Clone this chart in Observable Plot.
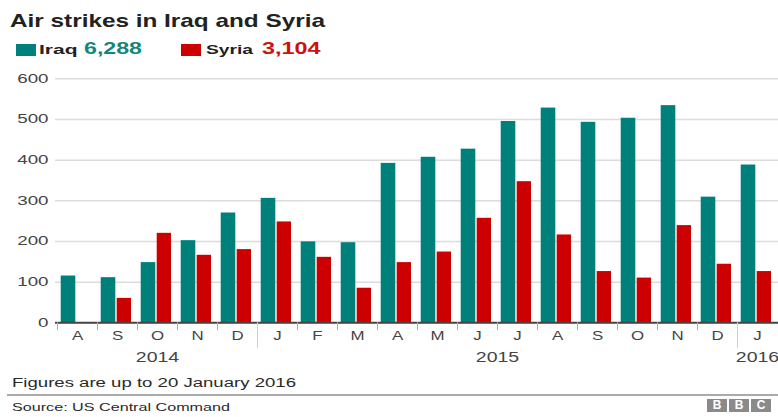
<!DOCTYPE html>
<html><head><meta charset="utf-8">
<script src="https://cdn.jsdelivr.net/npm/d3@7"></script>
<script src="https://cdn.jsdelivr.net/npm/@observablehq/plot@0.6"></script>
<style>
html,body{margin:0;padding:0;background:#fff;}
#wrap{position:relative;width:778px;height:417px;overflow:hidden;font-family:"Liberation Sans",Arial,sans-serif;}
.t{position:absolute;white-space:nowrap;transform-origin:0 0;line-height:1;}
.sw{position:absolute;}
#chart{position:absolute;left:0;top:60px;}
.bbc{position:absolute;top:399px;width:20px;height:13px;background:#8a8a8a;color:#fff;font-weight:bold;font-size:12px;line-height:13px;text-align:center;}
</style></head><body>
<div id="wrap">
  <div class="t" id="title" data-w="315" style="left:10px;top:10.5px;font-size:19px;font-weight:bold;color:#222"></div>
  <div class="sw" id="sw0" style="left:16px;top:44px;width:20px;height:12px"></div>
  <div class="t" id="lab0" data-w="38.5" style="left:38.5px;top:43.5px;font-size:12.5px;font-weight:bold;color:#222"></div>
  <div class="t" id="tot0" data-w="58" style="left:84px;top:40px;font-size:16.5px;font-weight:bold"></div>
  <div class="sw" id="sw1" style="left:181px;top:44px;width:20px;height:12px"></div>
  <div class="t" id="lab1" data-w="47" style="left:206px;top:43.5px;font-size:12.5px;font-weight:bold;color:#222"></div>
  <div class="t" id="tot1" data-w="58.5" style="left:261.5px;top:40px;font-size:16.5px;font-weight:bold"></div>
  <div id="chart"></div>
  <div class="t" id="note" data-w="284" style="left:12px;top:377px;font-size:12.5px;color:#2a2a2a"></div>
  <div style="position:absolute;left:7px;top:394px;width:771px;height:2px;background:#aaa"></div>
  <div class="t" id="src" data-w="218" style="left:12px;top:402px;font-size:11.5px;color:#2a2a2a"></div>
  <div class="bbc" style="left:707px">B</div>
  <div class="bbc" style="left:729px">B</div>
  <div class="bbc" style="left:751px">C</div>
</div>
<script>
// ---- data ----
const months = ["2014-08","2014-09","2014-10","2014-11","2014-12","2015-01","2015-02","2015-03","2015-04","2015-05","2015-06","2015-07","2015-08","2015-09","2015-10","2015-11","2015-12","2016-01"];
const monthLabels = ["A","S","O","N","D","J","F","M","A","M","J","J","A","S","O","N","D","J"];
const iraq  = [115,111,148,202,270,306,199,197,392,407,427,495,528,493,503,534,309,388];
const syria = [0,60,220,166,180,248,161,85,148,174,257,347,216,126,110,239,144,126];
const seriesNames = ["Iraq","Syria"];
const seriesTotals = ["6,288","3,104"];
const seriesColors = ["#00807a","#cc0000"];
const totalColors = ["#12867f","#cc1111"];
const years = ["2014","2015","2016"];
const yearMonths = ["2014-10","2015-07","2016-01"];
const yTicks = [0,100,200,300,400,500,600];
const titleText = "Air strikes in Iraq and Syria";
const noteText = "Figures are up to 20 January 2016";
const sourceText = "Source: US Central Command";

// ---- header / footer text ----
document.getElementById("title").textContent = titleText;
document.getElementById("note").textContent = noteText;
document.getElementById("src").textContent = sourceText;
seriesNames.forEach((s,i)=>{
  document.getElementById("sw"+i).style.background = seriesColors[i];
  document.getElementById("lab"+i).textContent = s;
  const t = document.getElementById("tot"+i);
  t.textContent = seriesTotals[i];
  t.style.color = totalColors[i];
});

const iraqRows = months.map((m,i)=>({month:m, value:iraq[i]}));
const syriaRows = months.map((m,i)=>({month:m, value:syria[i]}));
const yearRows = years.map((y,i)=>({month:yearMonths[i], label:y}));

const chart = Plot.plot({
  width: 778, height: 312,
  marginLeft: 55, marginRight: 0, marginTop: 18, marginBottom: 50,
  style: {fontFamily: "Liberation Sans, Arial, sans-serif", background: "transparent", overflow: "visible"},
  x: {domain: months, range: [57, 777], padding: 0},
  y: {domain: [0, 600], range: [262.3, 18.3]},
  marks: [
    Plot.gridY(yTicks, {stroke: "#dcdcdc", strokeOpacity: 1, strokeWidth: 1.5}),
    Plot.axisY(yTicks, {anchor: "left", tickSize: 0, tickPadding: 7, fontSize: 12.5, fill: "#444", label: null}),
    Plot.barY(iraqRows, {x: "month", y: "value", fill: seriesColors[0], insetLeft: 3.7, insetRight: 21.7}),
    Plot.barY(syriaRows, {x: "month", y: "value", fill: seriesColors[1], insetLeft: 19.7, insetRight: 6}),
    Plot.ruleY([0], {stroke: "#444", strokeWidth: 2}),
    Plot.axisX(months, {anchor: "bottom", tickSize: 8, dx: -20, stroke: "#aaa", fill: "none", label: null}),
    Plot.axisX(["2015-01","2016-01"], {anchor: "bottom", tickSize: 26, dx: -20, stroke: "#d0d0d0", fill: "none", label: null}),
    Plot.axisX(months, {anchor: "bottom", tickSize: 0, tickPadding: 8.5, fontSize: 12.5, fill: "#444", label: null,
      tickFormat: d => monthLabels[months.indexOf(d)]}),
    Plot.text(yearRows.filter(d => d.label !== "2015"), {x: "month", y: 0, text: "label", dy: 34, fontSize: 15, fill: "#444"}),
    Plot.text(yearRows.filter(d => d.label === "2015"), {x: "month", y: 0, text: "label", dy: 34, dx: -20, fontSize: 15, fill: "#444"})
  ]
});
document.getElementById("chart").appendChild(chart);

// horizontal stretch of the reference's lettering
function stretch(sel, k){
  chart.querySelectorAll(sel).forEach(t=>{
    const w = t.getComputedTextLength();
    t.setAttribute("textLength", (w*k).toFixed(2));
    t.setAttribute("lengthAdjust", "spacingAndGlyphs");
  });
}
stretch('g[aria-label="y-axis tick label"] text', 1.5);
stretch('g[aria-label="x-axis tick label"] text', 1.35);
stretch('g[aria-label="text"] text', 1.3);

document.querySelectorAll(".t[data-w]").forEach(el=>{
  const w = el.getBoundingClientRect().width;
  el.style.transform = `scaleX(${(+el.dataset.w / w).toFixed(4)})`;
});
</script>
</body></html>
